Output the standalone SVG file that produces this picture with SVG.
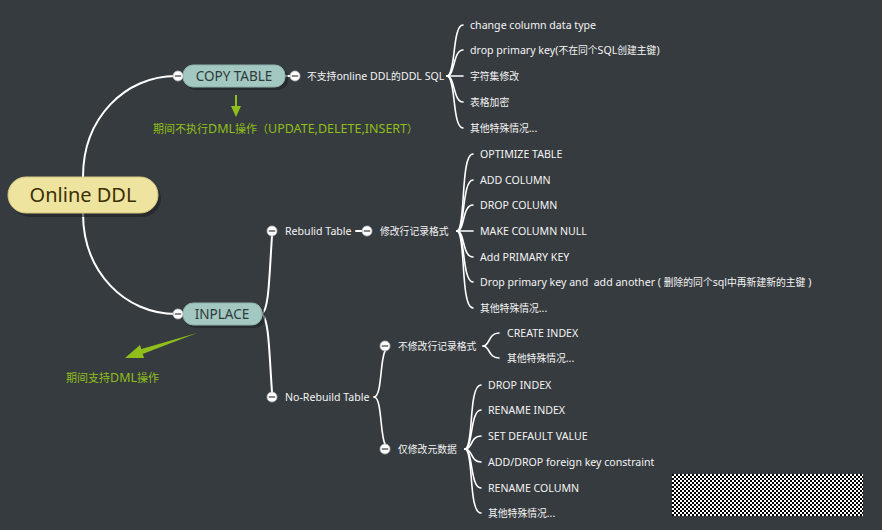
<svg xmlns="http://www.w3.org/2000/svg" width="882" height="530" viewBox="0 0 882 530">
<defs>
<style>
.bg{fill:#363b3f}
.ln{fill:none;stroke:#ffffff;stroke-width:2;stroke-linecap:round}
.br{fill:none;stroke:#ffffff;stroke-width:1.6;stroke-linecap:round}
.t{font-family:"Noto Sans","Noto Sans CJK SC",sans-serif;font-size:10.6px;fill:#f4f4f4}
.c{font-size:9.8px}
.g{font-family:"Noto Sans","Noto Sans CJK SC",sans-serif;font-size:12.5px;fill:#8fbf1a}
.gc{font-size:11px}
.pill{fill:#a2c8c1;stroke:#8fb3ad;stroke-width:1}
.pt{font-family:"Noto Sans","Noto Sans CJK SC",sans-serif;font-size:13.5px;fill:#2f3a3a;text-anchor:middle}
.sh{fill:#1e2224;opacity:0.6}
.cc{fill:#ffffff;stroke:#bbbbbb;stroke-width:0.8}
.cm{stroke:#555555;stroke-width:1.4}
</style>
<pattern id="chk" width="4" height="4" patternUnits="userSpaceOnUse" x="672" y="474">
<rect width="4" height="4" fill="#ffffff"/>
<rect width="2" height="2" fill="#000000"/>
<rect x="2" y="2" width="2" height="2" fill="#000000"/>
</pattern>
<g id="col"><circle r="5" class="cc"/><line x1="-3.2" y1="0" x2="3.2" y2="0" class="cm"/></g>
</defs>
<rect class="bg" x="0" y="0" width="882" height="530"/>

<g id="connectors">
<path class="ln" d="M83,177 C83,118 125,76 176,76"/>
<path class="ln" d="M83,213 C83,272 125,314 176,314"/>
<line class="ln" x1="285" y1="76" x2="291" y2="76"/>
<path class="br" d="M447,76 C456,76 452,25 463,25"/>
<path class="br" d="M447,76 C455,76 453,50 463,50"/>
<line class="br" x1="447" y1="76" x2="463" y2="76"/>
<path class="br" d="M447,76 C455,76 453,102 463,102"/>
<path class="br" d="M447,76 C456,76 452,128 463,128"/>
<path class="ln" d="M262,314 C269,308 269,280 272,236"/>
<path class="ln" d="M262,314 C269,320 269,350 272,392"/>
<line class="ln" x1="356" y1="231" x2="362" y2="231"/>
<path class="br" d="M457,231 C466,231 460,154 473,154"/>
<path class="br" d="M457,231 C465,231 462,180 473,180"/>
<path class="br" d="M457,231 C465,231 462,205 473,205"/>
<line class="br" x1="457" y1="231" x2="473" y2="231"/>
<path class="br" d="M457,231 C465,231 462,257 473,257"/>
<path class="br" d="M457,231 C465,231 462,282 473,282"/>
<path class="br" d="M457,231 C466,231 460,308 473,308"/>
<path class="br" d="M374,397 C382,397 380,360 385,351"/>
<path class="br" d="M374,397 C382,397 380,435 385,444"/>
<path class="br" d="M483,346 C490,346 488,333 499,333"/>
<path class="br" d="M483,346 C490,346 488,358 499,358"/>
<path class="br" d="M465,449 C474,449 468,385 481,385"/>
<path class="br" d="M465,449 C473,449 470,410 481,410"/>
<path class="br" d="M465,449 C473,449 470,436 481,436"/>
<path class="br" d="M465,449 C473,449 470,462 481,462"/>
<path class="br" d="M465,449 C473,449 470,488 481,488"/>
<path class="br" d="M465,449 C474,449 468,513 481,513"/>
</g>

<g id="root">
<rect class="sh" x="11" y="180" width="150" height="37" rx="18.5"/>
<rect x="8" y="177" width="150" height="36" rx="18" fill="#eee4a0" stroke="#d6c97e" stroke-width="1"/>
<text x="83" y="202" font-family="'Noto Sans','Noto Sans CJK SC',sans-serif" font-size="20px" fill="#3a3005" text-anchor="middle">Online DDL</text>
</g>

<g id="copy-table">
<rect class="sh" x="185" y="67" width="103" height="23" rx="10"/>
<rect class="pill" x="183" y="65" width="102" height="22" rx="10"/>
<text class="pt" x="234" y="81">COPY TABLE</text>
<use href="#col" x="178" y="76"/>
<use href="#col" x="295" y="76"/>
</g>

<g id="copy-note">
<line x1="236" y1="95" x2="236" y2="108" stroke="#8fbf1a" stroke-width="2"/>
<polygon points="231,106 241,106 236,117" fill="#8fbf1a"/>
<text class="g" x="153" y="133"><tspan class="gc">期间不执行</tspan>DML<tspan class="gc">操作（</tspan>UPDATE,DELETE,INSERT<tspan class="gc">）</tspan></text>
</g>

<g id="no-online-ddl">
<text class="t" x="307" y="80"><tspan class="c">不支持</tspan>online DDL<tspan class="c">的</tspan>DDL SQL</text>
</g>
<g id="copy-leaves">
<text class="t" x="470" y="29">change column data type</text>
<text class="t" x="470" y="54">drop primary key(<tspan class="c">不在同个</tspan>SQL<tspan class="c">创建主键</tspan>)</text>
<text class="t c" x="470" y="80">字符集修改</text>
<text class="t c" x="470" y="106">表格加密</text>
<text class="t" x="470" y="132"><tspan class="c">其他特殊情况</tspan>...</text>
</g>

<g id="inplace">
<rect class="sh" x="185" y="305" width="80" height="23" rx="10"/>
<rect class="pill" x="183" y="303" width="79" height="22" rx="10"/>
<text class="pt" x="222" y="319">INPLACE</text>
<use href="#col" x="178" y="314"/>
</g>

<g id="inplace-note">
<polygon points="197,333 138,350 140,355" fill="#8fbf1a"/>
<polygon points="125,358 140,345 144,358" fill="#8fbf1a"/>
<text class="g" x="66" y="382"><tspan class="gc">期间支持</tspan>DML<tspan class="gc">操作</tspan></text>
</g>

<g id="rebuild-table">
<use href="#col" x="272" y="231"/>
<text class="t" x="285" y="235">Rebulid Table</text>
</g>
<g id="row-format">
<use href="#col" x="367" y="231"/>
<text class="t c" x="380" y="235">修改行记录格式</text>
</g>
<g id="rebuild-leaves">
<text class="t" x="480" y="158">OPTIMIZE TABLE</text>
<text class="t" x="480" y="184">ADD COLUMN</text>
<text class="t" x="480" y="209">DROP COLUMN</text>
<text class="t" x="480" y="235">MAKE COLUMN NULL</text>
<text class="t" x="480" y="261">Add PRIMARY KEY</text>
<text class="t" x="480" y="286" xml:space="preserve">Drop primary key and  add another ( <tspan class="c">删除的同个</tspan>sql<tspan class="c">中再新建新的主键</tspan> )</text>
<text class="t" x="480" y="312"><tspan class="c">其他特殊情况</tspan>...</text>
</g>

<g id="no-rebuild-table">
<use href="#col" x="272" y="397"/>
<text class="t" x="285" y="401">No-Rebuild Table</text>
</g>
<g id="no-row-format">
<use href="#col" x="385" y="346"/>
<text class="t c" x="398" y="350">不修改行记录格式</text>
</g>
<g id="no-row-leaves">
<text class="t" x="507" y="337">CREATE INDEX</text>
<text class="t" x="507" y="362"><tspan class="c">其他特殊情况</tspan>...</text>
</g>
<g id="metadata-only">
<use href="#col" x="385" y="449"/>
<text class="t c" x="398" y="453">仅修改元数据</text>
</g>
<g id="metadata-leaves">
<text class="t" x="488" y="389">DROP INDEX</text>
<text class="t" x="488" y="414">RENAME INDEX</text>
<text class="t" x="488" y="440">SET DEFAULT VALUE</text>
<text class="t" x="488" y="466">ADD/DROP foreign key constraint</text>
<text class="t" x="488" y="492">RENAME COLUMN</text>
<text class="t" x="488" y="517"><tspan class="c">其他特殊情况</tspan>...</text>
</g>

<rect x="672" y="474" width="191" height="42" fill="url(#chk)"/>
</svg>
